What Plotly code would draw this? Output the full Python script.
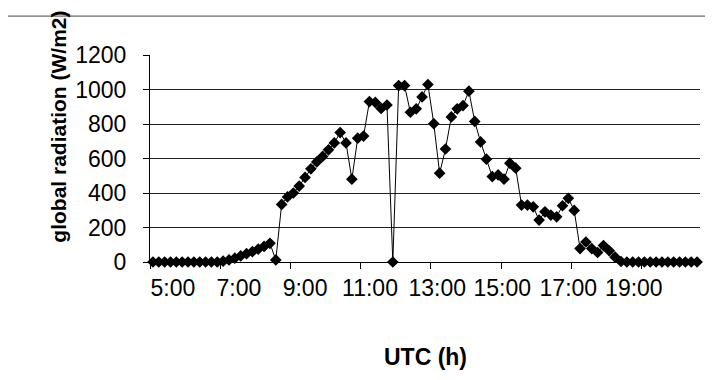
import plotly.graph_objects as go

# 10-minute categories from 5:00 to 20:30
times = [f"{5 + (m // 60)}:{m % 60:02d}" for m in range(0, 94 * 10, 10)]

radiation = [
    0, 0, 0, 0, 0, 0, 0, 0, 0, 0, 0, 0,
    5, 12, 22, 35, 48, 60, 75, 90, 108, 12,
    334, 377, 400, 440, 490, 540, 580, 612, 650, 690,
    750, 690, 480, 718, 730, 930, 925, 890, 910, 0,
    1023, 1023, 868, 888, 957, 1029, 802, 515, 655, 841,
    888, 907, 990, 815, 696, 596, 495, 505, 480, 573,
    544, 330, 330, 320, 243, 291, 272, 262, 326, 369,
    299, 78, 116, 78, 55, 95, 65, 28, 3,
    0, 0, 0, 0, 0, 0, 0, 0, 0, 0, 0, 0, 0,
]

x_tick_labels = ["5:00", "7:00", "9:00", "11:00", "13:00", "15:00", "17:00", "19:00"]
y_tick_values = [0, 200, 400, 600, 800, 1000, 1200]
y_tick_labels = ["0", "200", "400", "600", "800", "1000", "1200"]

idx = list(range(len(times)))

fig = go.Figure()
fig.add_trace(go.Scatter(
    x=idx, y=radiation, mode="lines+markers",
    line=dict(color="black", width=1),
    marker=dict(symbol="diamond", size=9, color="black"),
    text=times, hovertemplate="%{text}: %{y} W/m2<extra></extra>",
    cliponaxis=False,
))

label_pos = [3.4, 14.7, 26.0, 37.1, 48.6, 59.7, 71.0, 82.2]
tick_marks = [-0.5 + 12 * k for k in range(8)]

fig.update_layout(
    width=713, height=380,
    margin=dict(l=142, r=21, t=47, b=126),
    paper_bgcolor="white", plot_bgcolor="white",
    showlegend=False,
    font=dict(family="Liberation Sans, Arial, sans-serif", color="black"),
    xaxis=dict(
        range=[-0.5, 93.5], showline=True, linecolor="black", linewidth=1,
        showgrid=False, zeroline=False,
        tickmode="array", tickvals=label_pos, ticktext=x_tick_labels,
        ticks="", tickfont=dict(size=23, color="black"),
        ticklabelstandoff=5,
        minor=dict(tickmode="array", tickvals=tick_marks, ticks="outside",
                   ticklen=6, tickcolor="black", tickwidth=1, showgrid=False),
    ),
    yaxis=dict(
        range=[0, 1200], showline=True, linecolor="black", linewidth=1,
        showgrid=True, gridcolor="#222222", gridwidth=1, zeroline=False,
        tickmode="array", tickvals=y_tick_values, ticktext=y_tick_labels,
        ticks="outside", ticklen=6, tickcolor="black",
        tickfont=dict(size=23, color="black"),
        ticklabelstandoff=12,
    ),
    shapes=[dict(type="rect", xref="paper", yref="paper",
                 x0=-0.26, x1=1.1, y0=-0.7, y1=1.188,
                 line=dict(color="#444444", width=1), layer="below")],
    annotations=[
        dict(text="global radiation (W/m2)", textangle=-90,
             xref="paper", yref="paper", x=-0.167, y=0.6546,
             xanchor="center", yanchor="middle", showarrow=False,
             font=dict(size=21, weight="bold", color="black")),
        dict(text="UTC (h)", xref="paper", yref="paper", x=0.5, y=-0.459,
             xanchor="center", yanchor="middle", showarrow=False,
             font=dict(size=23, weight="bold", color="black")),
    ],
)

fig.write_html("out.html")
